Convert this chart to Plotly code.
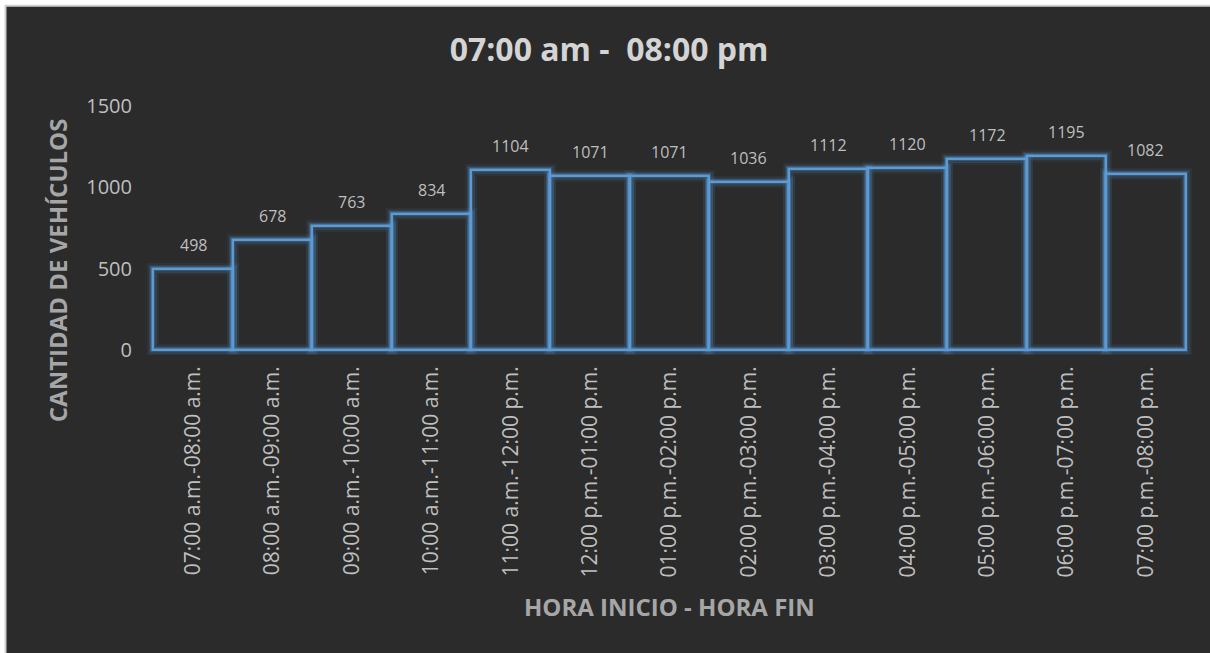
import plotly.graph_objects as go

categories = [
    "07:00 a.m.-08:00 a.m.", "08:00 a.m.-09:00 a.m.", "09:00 a.m.-10:00 a.m.",
    "10:00 a.m.-11:00 a.m.", "11:00 a.m.-12:00 p.m.", "12:00 p.m.-01:00 p.m.",
    "01:00 p.m.-02:00 p.m.", "02:00 p.m.-03:00 p.m.", "03:00 p.m.-04:00 p.m.",
    "04:00 p.m.-05:00 p.m.", "05:00 p.m.-06:00 p.m.", "06:00 p.m.-07:00 p.m.",
    "07:00 p.m.-08:00 p.m.",
]
vehiculos = [498, 678, 763, 834, 1104, 1071, 1071, 1036, 1112, 1120, 1172, 1195, 1082]
y_ticks = [0, 500, 1000, 1500]

title_text = "07:00 am -\u00a0 08:00 pm"
x_title = "HORA INICIO - HORA FIN"
y_title = "CANTIDAD DE VEHÍCULOS"

BG = "#2b2b2b"
BLUE = "#5b9bd5"
FONT = "Open Sans"

W, H = 1210, 653
xr = [-0.58, 12.58]
yr = [-30, 1500]
l = 146.6
r = 1210 - 146.6 - 1045.7
t = 106
b = 653 - 106 - 249.4
pw = W - l - r
ph = H - t - b


def px_to_paper_x(px):
    return (px - l) / pw


def px_to_paper_y(py):
    return (H - b - py) / ph


fig = go.Figure()

# glow layers
for wdt, alpha in [(12, 0.08), (8, 0.14), (5, 0.22)]:
    fig.add_trace(go.Bar(
        x=categories, y=vehiculos,
        marker=dict(color="rgba(0,0,0,0)", line=dict(color=f"rgba(91,155,213,{alpha})", width=wdt)),
        width=1.0, hoverinfo="skip", showlegend=False,
    ))

fig.add_trace(go.Bar(
    x=categories, y=vehiculos,
    marker=dict(color="rgba(0,0,0,0)", line=dict(color=BLUE, width=2.5)),
    width=1.0, showlegend=False,
))

for c, v in zip(categories, vehiculos):
    fig.add_annotation(
        x=c, y=v, text=str(v), showarrow=False, yanchor="bottom", yshift=11,
        font=dict(family=FONT, size=16, color="#bfbfbf"),
    )

# axis titles
fig.add_annotation(
    xref="paper", yref="paper", x=px_to_paper_x(669), y=px_to_paper_y(607),
    text=x_title, showarrow=False, xanchor="center", yanchor="middle",
    font=dict(family=FONT, size=24, color="#a6a6a6", weight="bold"),
)
fig.add_annotation(
    xref="paper", yref="paper", x=px_to_paper_x(57), y=px_to_paper_y(270),
    text=y_title, showarrow=False, xanchor="center", yanchor="middle", textangle=-90,
    font=dict(family=FONT, size=24, color="#a6a6a6", weight="bold"),
)

# white outer margin + gray frame
fig.add_shape(
    type="rect", xref="paper", yref="paper", layer="below",
    x0=px_to_paper_x(5), x1=px_to_paper_x(1230),
    y0=px_to_paper_y(680), y1=px_to_paper_y(5.5),
    fillcolor=BG, line=dict(color="#d0d0d0", width=2),
)

fig.update_layout(
    width=W, height=H,
    paper_bgcolor="white", plot_bgcolor="rgba(0,0,0,0)",
    barmode="overlay", bargap=0,
    margin=dict(l=l, r=r, t=t, b=b, autoexpand=False),
    title=dict(
        text=title_text, x=px_to_paper_x(609), xref="paper", xanchor="center",
        y=1 - 50 / H, yanchor="middle",
        font=dict(family=FONT, size=32, color="#d4d4d4", weight="bold"),
    ),
    xaxis=dict(
        range=xr, type="category", showgrid=False, zeroline=False, showline=False,
        tickangle=-90, ticks="", ticklabelstandoff=6,
        tickfont=dict(family=FONT, size=21, color="#bfbfbf"),
    ),
    yaxis=dict(
        range=yr, tickvals=y_ticks, showgrid=False, zeroline=False, showline=False,
        ticks="", ticklabelstandoff=14,
        tickfont=dict(family=FONT, size=20, color="#bfbfbf"),
    ),
    font=dict(family=FONT),
)

fig.write_html("out.html")
